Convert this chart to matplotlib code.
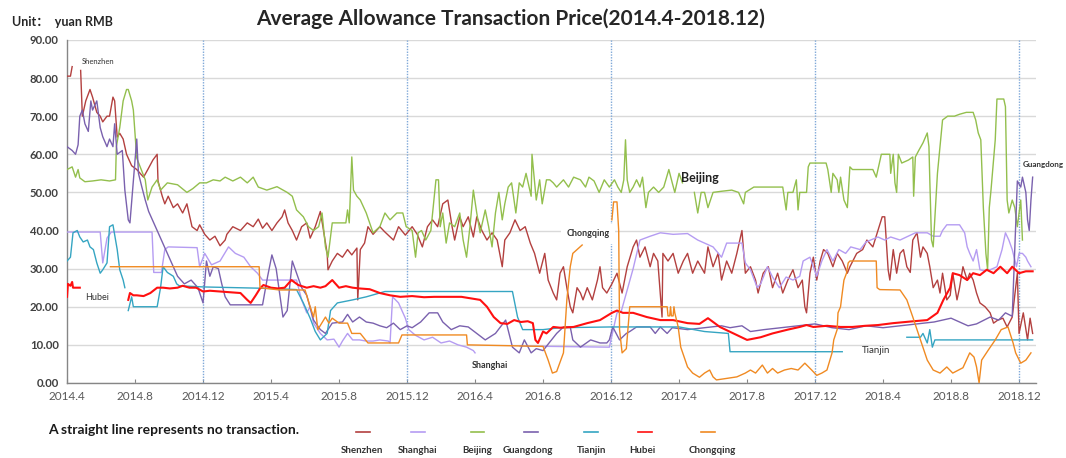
"""Average allowance transaction price of the pilot carbon markets, 2014.4-2018.12."""
import numpy as np
import matplotlib
matplotlib.use('Agg')
import matplotlib.pyplot as plt
from matplotlib.lines import Line2D

# x = months since 2014.4, y = yuan RMB; None = no data (break in the line)
shenzhen = [
    (0.0, 80.5), (0.2, 80.5), (0.3, 83), None,
    (0.8, 82), (0.9, 70), (1.1, 74), (1.35, 77), (1.5, 75), (1.75, 71), (1.95, 70), (2.1, 68.5),
    (2.35, 70), (2.5, 70), (2.7, 75), (2.8, 74), (2.95, 64.5), (3.1, 65.5), (3.3, 64), (3.5, 60),
    (3.8, 57), (4.1, 56), (4.5, 54), (4.75, 56), (5.05, 58.5), (5.3, 60), (5.35, 53), (5.6, 49),
    (5.75, 47), (5.95, 49), (6.25, 46), (6.5, 47), (6.8, 44.6), (7.05, 47), (7.35, 41), (7.65, 40),
    (7.8, 41.5), (8.1, 39), (8.4, 37.5), (8.7, 38.5), (9.0, 36), (9.3, 37.5), (9.4, 39), (9.75, 41),
    (10.2, 40), (10.6, 42), (10.95, 41), (11.25, 43), (11.5, 40.6), (11.75, 42), (12.05, 40),
    (12.35, 42), (12.65, 43.6), (12.8, 45.4), (13.0, 42), (13.25, 40), (13.5, 37.5), (13.8, 41),
    (14.1, 42), (14.3, 38), (14.6, 41), (14.9, 45), (15.05, 41), (15.3, 34), (15.35, 29.7),
    (15.6, 32), (15.9, 34), (16.2, 33), (16.5, 35), (16.75, 33.6), (17.05, 35.4), (17.1, 21.8),
    (17.25, 35), (17.5, 36.7), (17.7, 41), (18.0, 39), (18.4, 41), (18.7, 39.6), (19.2, 37.5),
    (19.5, 41), (19.9, 38.8), (20.3, 41), (20.6, 39), (20.9, 35.7), (21.2, 41), (21.5, 42.8),
    (21.8, 41), (22.1, 47), (22.4, 48), (22.65, 41), (22.8, 37.5), (23.1, 43.6), (23.3, 41),
    (23.6, 43.6), (23.9, 38.3), (24.1, 43.6), (24.4, 40), (24.7, 37.5), (25.0, 39.4), (25.3, 37.5),
    (25.6, 30.5), (25.75, 37.5), (26.05, 39.4), (26.35, 42.8), (26.65, 40), (26.95, 41),
    (27.25, 36.7), (27.5, 34), (27.8, 28.8), (28.1, 34), (28.3, 27), (28.6, 23.6), (28.8, 21.8),
    (29.0, 28.8), (29.2, 30.5), (29.4, 25), (29.6, 20), (29.75, 18.4), (30.0, 25), (30.2, 23.6),
    (30.35, 21.8), (30.6, 25), (30.9, 21.8), (31.2, 27), (31.35, 30.5), (31.5, 25), (31.75, 23.6),
    (32.05, 26), (32.35, 28.8), (32.65, 23.6), (32.95, 30.5), (33.3, 35.7), (33.5, 37.5),
    (33.7, 33), (34.0, 35.7), (34.3, 30.5), (34.5, 34), (34.75, 32), (35.0, 17.3), (35.05, 34),
    (35.35, 32), (35.65, 34), (35.95, 28.8), (36.25, 32), (36.5, 34), (36.8, 28.8), (37.1, 32),
    (37.5, 28.8), (37.7, 35.7), (38.0, 30.5), (38.3, 34), (38.5, 27), (38.8, 32), (39.1, 28.8),
    (39.4, 34), (39.7, 40), (39.9, 28.8), (40.2, 30.5), (40.5, 27), (40.65, 23.6), (40.95, 28.8),
    (41.25, 30.5), (41.5, 25), (41.8, 28.8), (42.1, 23.6), (42.4, 27), (42.7, 29.7), (43.0, 25),
    (43.25, 27), (43.4, 20), (43.5, 18.4), (43.7, 28.8), (43.9, 33), (44.1, 27), (44.3, 32),
    (44.5, 35), (44.75, 34), (45.05, 30.5), (45.3, 34), (45.6, 32), (45.9, 28.8), (46.05, 30.5),
    (46.45, 34), (46.8, 35), (47.05, 37.5), (47.4, 35.7), (47.7, 40), (47.95, 43.6), (48.1, 43.6),
    (48.3, 29.7), (48.4, 27), (48.6, 35), (48.8, 28.8), (49.0, 34), (49.2, 35), (49.4, 30.5),
    (49.6, 29), (49.75, 37.5), (50.0, 39.4), (50.2, 33), (50.35, 35.7), (50.6, 34), (50.75, 30.5),
    (50.95, 25), (51.2, 27), (51.35, 23.6), (51.5, 28.8), (51.75, 21.8), (51.95, 23), (52.1, 28.8),
    (52.35, 21.8), (52.5, 25), (52.7, 30.5), (52.95, 27), (53.1, 28.8), (53.3, 27), (53.5, 23.6),
    (53.7, 21), (54.0, 20), (54.3, 18.4), (54.5, 15.7), (54.75, 16.5), (55.05, 17), (55.3, 14.7),
    (55.6, 17.3), (55.9, 28.8), (56.0, 13), (56.25, 18.4), (56.5, 11.3), (56.65, 17), (56.8, 13),
]

shanghai = [
    (0.0, 39.6), (1.0, 39.6), (1.95, 39.6), (2.1, 31.5), (2.35, 38), (2.6, 39.6), (5.0, 39.6),
    (5.1, 29), (5.55, 29), (5.75, 35), (5.95, 35.7), (7.65, 35.5), (7.8, 30.5), (8.1, 34),
    (8.5, 31), (9.0, 32), (9.5, 35.7), (9.9, 34), (10.4, 33), (10.8, 30.5), (11.2, 28.8),
    (11.5, 27), (13.5, 27), (13.8, 21.8), (14.1, 18.4), (14.3, 20), (14.5, 15.7), (14.9, 13),
    (15.3, 11.3), (15.7, 11.5), (16.0, 9.4), (16.2, 11), (16.5, 13), (16.8, 11.3), (17.2, 11.3),
    (17.6, 11), (18.0, 11), (18.4, 11.3), (18.9, 11), (19.0, 10.5), (19.15, 22.6), (19.5, 21),
    (19.9, 17), (20.1, 14), (20.5, 12.5), (21.0, 11.3), (21.5, 12), (22.0, 10.5), (22.5, 11),
    (23.0, 10), (23.5, 9.4), (23.9, 8.5), (24.0, 7.9), None,
    (26.65, 9.7), (31.9, 9.4), (32.35, 18.4), (32.6, 18.8), (33.3, 30), (33.7, 37.5), (34.3, 38.5),
    (34.9, 39.4), (35.65, 39), (36.5, 39.2), (37.1, 37.5), (37.5, 36.7), (38.0, 35.7), (38.5, 33),
    (38.8, 36.7), (39.7, 36.7), (39.9, 31.5), (40.2, 29.7), (40.6, 25), (40.8, 26), (41.2, 30.5),
    (41.5, 27.8), (41.9, 25), (42.3, 27.8), (42.7, 27), (43.1, 28), (43.3, 32), (43.7, 33),
    (44.1, 28), (44.4, 32), (44.7, 35), (45.05, 32), (45.4, 35), (45.8, 34), (46.1, 35.7),
    (46.65, 35), (47.0, 37), (47.7, 38.3), (48.1, 37.5), (48.45, 38.3), (49.0, 37.5), (49.9, 39.4),
    (50.6, 39.4), (50.95, 38.5), (51.35, 38.5), (51.5, 40), (51.75, 41.5), (52.5, 41.5),
    (52.8, 39.4), (52.95, 35.7), (53.1, 34), (53.3, 32), (53.5, 35), (53.7, 29.7), (53.9, 29.5),
    (54.3, 29.7), (54.7, 30.5), (55.0, 35), (55.2, 39.4), (55.4, 37.5), (55.6, 35), (55.85, 30.5),
    (56.0, 34), (56.2, 34), (56.4, 33), (56.5, 32), (56.7, 30.5),
]

beijing = [
    (0.0, 56), (0.3, 56.7), (0.5, 54), (0.65, 56), (0.75, 53.8), (1.05, 52.8), (1.5, 53), (2.0, 53.3),
    (2.5, 53), (2.85, 53.3), (2.9, 62), (3.1, 67), (3.3, 74), (3.5, 77), (3.6, 77), (3.8, 74),
    (3.9, 71.6), (4.1, 59), (4.3, 56.7), (4.6, 53.3), (4.75, 48), (5.0, 51.4), (5.3, 53.3),
    (5.5, 50.6), (5.9, 52.5), (6.5, 52), (7.05, 50), (7.4, 51), (7.8, 52.5), (8.2, 52.5),
    (8.6, 53.3), (9.0, 53), (9.3, 54), (9.75, 53), (10.2, 54), (10.6, 52.5), (10.95, 54),
    (11.25, 51.4), (11.75, 50.6), (12.35, 51.5), (12.95, 50), (13.25, 49), (13.5, 45.4),
    (13.9, 43.6), (14.2, 41), (14.5, 40), (14.8, 41), (15.0, 44.6), (15.2, 35.7), (15.35, 33),
    (15.6, 42), (16.0, 42), (16.4, 42), (16.5, 45.4), (16.6, 42), (16.75, 59.3), (16.85, 50.6),
    (17.05, 49), (17.25, 48), (17.6, 44.6), (18.0, 39.4), (18.4, 41), (18.7, 44.6), (19.0, 42.8),
    (19.4, 44.6), (19.75, 44.6), (19.95, 41), (20.3, 40), (20.5, 33), (20.65, 39.4), (20.85, 40),
    (21.1, 37.5), (21.4, 40), (21.7, 53.3), (21.85, 53.3), (21.95, 41), (22.1, 44.6), (22.3, 36.7),
    (22.5, 42), (22.8, 41), (23.1, 44.6), (23.3, 37.5), (23.5, 33), (23.7, 41), (23.9, 50.6),
    (24.1, 44.6), (24.3, 39.4), (24.6, 45.4), (24.8, 41), (25.0, 35.7), (25.2, 44.6), (25.4, 50),
    (25.6, 42.8), (25.75, 47), (25.95, 51.4), (26.15, 52.5), (26.4, 44.6), (26.6, 52.5),
    (26.8, 51.4), (27.0, 55), (27.3, 49), (27.35, 60), (27.6, 48), (27.8, 53.3), (27.95, 47),
    (28.2, 53.3), (28.4, 53.3), (28.6, 52.5), (28.8, 51.4), (29.2, 53.3), (29.5, 51.4), (29.8, 54),
    (30.2, 53.3), (30.5, 51.4), (30.7, 54), (31.0, 53), (31.3, 50), (31.6, 53.3), (31.9, 51.4),
    (32.2, 53.3), (32.4, 51.4), (32.6, 50), (32.75, 53.3), (32.85, 63.8), (32.95, 53.3), (33.1, 50),
    (33.3, 51.4), (33.5, 53.3), (33.7, 51.4), (33.85, 54), (34.05, 46), (34.2, 50), (34.5, 51.4),
    (34.8, 50), (35.1, 51.4), (35.4, 56), (35.6, 52.5), (35.75, 50), (36.0, 55), (36.2, 52.5), None,
    (36.9, 50), (37.1, 44.6), (37.3, 50), (37.5, 50), (37.7, 46), (38.0, 50), (38.5, 50.3),
    (39.1, 50.6), (39.5, 50), (39.8, 47), (39.9, 50), (40.4, 51.4), (41.0, 51.4), (42.1, 51.4),
    (42.3, 45.4), (42.4, 50), (42.7, 50), (42.9, 53.3), (43.0, 45.4), (43.1, 50), (43.5, 50),
    (43.6, 56.7), (43.7, 57.7), (44.3, 57.7), (44.65, 57.7), (44.75, 56), (44.95, 50), (45.05, 55),
    (45.3, 53.3), (45.4, 50), (45.5, 54), (45.7, 48), (45.9, 46), (46.05, 56.7), (46.2, 56),
    (46.8, 56), (47.4, 56), (47.6, 54), (47.9, 60), (48.4, 60), (48.45, 55), (48.6, 60),
    (48.7, 52.5), (48.8, 50), (48.9, 60), (49.1, 57.7), (49.5, 58.5), (49.75, 59.3), (49.8, 49),
    (49.9, 59.3), (50.1, 61), (50.35, 63), (50.6, 65.6), (50.7, 62), (50.75, 53.3), (50.85, 37.5),
    (50.95, 35.7), (51.2, 55), (51.5, 69), (51.8, 70), (52.2, 70), (52.5, 70.5), (52.9, 71),
    (53.3, 71), (53.45, 69), (53.6, 65.6), (53.75, 63.8), (53.9, 46), (54.05, 34), (54.15, 29.7),
    (54.25, 46), (54.35, 50.6), (54.6, 63.8), (54.7, 74.5), (55.1, 74.5), (55.2, 72.5), (55.3, 48),
    (55.4, 44.6), (55.6, 48), (55.75, 46), (55.9, 41), (56.1, 48), (56.2, 37.5),
]

guangdong = [
    (0.0, 62), (0.3, 61), (0.5, 60), (0.65, 62.5), (0.75, 70), (0.9, 71.6), (1.05, 68), (1.25, 66),
    (1.4, 74), (1.5, 71.6), (1.75, 74), (1.95, 67), (2.1, 64.6), (2.35, 62), (2.5, 64), (2.7, 62),
    (2.8, 68), (2.95, 60), (3.25, 61), (3.4, 50.6), (3.6, 42.8), (3.7, 42), (3.9, 53), (4.1, 64),
    (4.2, 55), (4.4, 51.4), (4.6, 48), (4.8, 45), (6.5, 28), (6.9, 26), (7.3, 27), (7.7, 25),
    (8.0, 21), (8.2, 32), (8.4, 28), (8.6, 30.5), (8.9, 30), (9.1, 26), (9.3, 22.6), (9.6, 20.5),
    (11.5, 20.5), (11.8, 28), (12.05, 33.6), (12.3, 30), (12.7, 17.3), (12.95, 19), (13.25, 32),
    (13.5, 28.8), (13.8, 25), (14.1, 23), (14.5, 16.5), (14.9, 14), (15.2, 13), (15.6, 15.7),
    (16.2, 16), (16.5, 18), (16.8, 16), (17.2, 17.3), (17.6, 16), (18.0, 15.7), (18.4, 15),
    (18.8, 14.5), (19.2, 15.7), (19.6, 14), (20.0, 15), (20.3, 14.5), (20.8, 16), (21.3, 18.4),
    (21.8, 18.4), (22.1, 16), (22.6, 14), (23.1, 15), (23.6, 14.7), (24.1, 13), (24.6, 11.3),
    (25.2, 13), (25.8, 16.5), (26.2, 9.4), (26.6, 7.9), (26.9, 11.3), (27.3, 7.9), (27.6, 9),
    (28.0, 8.5), (28.8, 13), (29.2, 14.7), (29.6, 14.7), (29.75, 11.3), (30.2, 9.4), (30.8, 11.3),
    (31.35, 10.5), (31.75, 10.5), (31.9, 11.3), (32.1, 14.7), (32.5, 11.3), (32.9, 13), (33.1, 13.5),
    (33.5, 14.7), (34.3, 14.7), (34.6, 13), (34.9, 14.7), (35.3, 13), (35.6, 14.5), (36.5, 14),
    (37.5, 14.5), (38.5, 15), (39.0, 14.5), (39.7, 15), (40.2, 13.5), (41.0, 14), (42.0, 14.5),
    (43.0, 15), (44.0, 15.5), (45.0, 14.5), (46.0, 14), (47.0, 15), (48.0, 14.5), (49.0, 15),
    (50.0, 15.5), (51.0, 16), (52.0, 17), (52.5, 16), (53.0, 15), (53.5, 15.5), (54.3, 17.3),
    (54.8, 16.5), (55.2, 18.4), (55.6, 17.5), (55.9, 53), (56.1, 51.4), (56.2, 54), (56.4, 50),
    (56.5, 42.8), (56.6, 40), (56.7, 48), (56.8, 54),
]

tianjin = [
    (0.0, 32), (0.2, 33), (0.35, 39.4), (0.6, 40), (0.75, 38.3), (0.95, 37), (1.2, 37.5),
    (1.35, 35.7), (1.55, 35), (1.75, 31.5), (1.95, 28.8), (2.1, 29.7), (2.35, 31.5), (2.5, 41),
    (2.7, 41.5), (2.95, 35), (3.1, 29.7), (3.3, 27), (3.4, 25), None,
    (3.6, 19), (3.8, 22.6), (3.9, 20), (4.5, 20), (5.3, 20), (5.5, 25), (5.65, 30.5), (5.9, 29),
    (6.25, 28), (6.45, 26), (6.6, 25.5), (8.0, 25.2), (10.0, 25), (12.0, 24.8), (13.5, 24.5),
    (13.9, 21), (14.3, 17), (14.6, 13.5), (14.9, 11.3), (15.3, 13), (15.5, 19), (15.9, 21),
    (16.8, 21.8), (17.6, 22.6), (18.7, 24), (22.0, 24), (26.2, 24), (26.5, 17.3), (26.8, 14),
    (28.0, 14), (29.0, 14.5), (32.0, 14.7), (36.0, 14.7), (37.5, 13.5), (38.9, 13), (39.0, 8.2),
    (45.6, 8.2), None,
    (49.4, 12), (50.2, 12), (50.35, 13), (50.6, 10.5), (50.75, 14), (50.9, 9.4), (51.05, 11.3),
    (56.8, 11.3),
]

hubei = [
    (0.0, 22.6), (0.05, 26), (0.2, 25.5), (0.3, 26.5), (0.35, 25), (0.75, 25), None,
    (3.6, 21.8), (3.7, 23.6), (3.9, 23), (4.1, 23), (4.5, 22.8), (4.9, 23.6), (5.3, 25),
    (5.65, 25), (6.05, 24.8), (6.5, 25), (6.8, 25.5), (7.2, 25), (7.6, 25), (8.0, 24), (8.4, 24.2),
    (9.0, 24), (9.6, 23.8), (10.2, 23.6), (10.6, 21.8), (10.8, 21), (11.1, 23), (11.35, 24.8),
    (11.55, 25.7), (12.0, 25), (12.4, 24.8), (12.8, 25), (13.2, 27), (13.6, 25.7), (14.1, 25),
    (14.5, 25.4), (14.9, 25), (15.2, 25.4), (15.6, 27), (16.0, 25), (16.4, 25.4), (16.8, 25),
    (17.2, 24.8), (17.8, 24.6), (18.4, 23.6), (19.0, 23), (19.6, 22.6), (20.3, 22.8), (21.0, 22.5),
    (21.6, 22.6), (22.4, 22.6), (23.2, 22.6), (24.3, 21.8), (24.7, 20), (25.1, 17.3), (25.5, 15.7),
    (25.9, 15.5), (26.3, 16.5), (26.7, 16), (27.1, 16.2), (27.4, 15.7), (27.55, 11.3), (27.7, 10.5),
    (28.0, 13.5), (28.2, 13), (28.6, 14.7), (29.0, 14.5), (29.8, 14.7), (30.6, 15.7), (31.35, 16.5),
    (32.05, 18.4), (32.35, 19), (32.7, 18.4), (33.3, 18.4), (34.1, 17.3), (34.9, 16.5),
    (35.65, 16.5), (36.5, 15.7), (37.2, 15.5), (37.7, 17), (38.4, 14.7), (39.2, 13), (40.0, 11.3),
    (40.8, 12), (41.5, 13), (42.4, 14), (43.1, 14.7), (43.5, 15.2), (43.9, 14.7), (44.7, 15),
    (45.5, 14.7), (46.2, 14.7), (46.95, 15), (47.7, 15.2), (48.6, 15.7), (49.8, 16.2), (50.6, 16.5),
    (51.2, 18.4), (51.55, 21.8), (51.95, 25), (52.1, 28.8), (52.5, 28.3), (52.95, 27), (53.3, 28.8),
    (53.7, 28.3), (54.1, 29.7), (54.5, 28.8), (54.9, 30.5), (55.3, 28.8), (55.6, 30.5), (56.0, 28.8),
    (56.4, 29.3), (56.8, 29.3),
]

chongqing = [
    (2.55, 30.5), (11.3, 30.5), (11.35, 25), (12.5, 24.4), (14.0, 24.4), (14.3, 20), (14.5, 17.3),
    (14.6, 20), (14.75, 14), (15.2, 17.3), (15.4, 15.7), (15.6, 17), (16.0, 15.7), (16.5, 15.7),
    (16.75, 13), (17.25, 13), (17.7, 10.5), (19.5, 10.5), (19.7, 12.6), (23.5, 12.6), (23.55, 10),
    (28.0, 9.6), (28.3, 6), (28.55, 2.6), (28.8, 3), (29.2, 7.9), (29.4, 21.8), (29.6, 30.5),
    (29.75, 34), (30.0, 35), (30.3, 36.2), None,
    (32.05, 42.8), (32.15, 47.5), (32.35, 47.5), (32.45, 40), (32.5, 14), (32.65, 7.9), (32.9, 9),
    (33.1, 20), (35.3, 20), (35.35, 17.6), (35.45, 17.6), (35.5, 20), (35.55, 17.6), (35.65, 17.6),
    (35.7, 20), (35.75, 18.4), (35.95, 14.7), (36.1, 9.4), (36.5, 4.2), (36.8, 2.6), (37.2, 1.5),
    (37.5, 2.6), (37.8, 3.4), (38.0, 1.6), (38.2, 0.8), (38.8, 1.2), (39.4, 1.6), (39.9, 2.6),
    (40.2, 3.4), (40.5, 2.6), (40.9, 4.7), (41.2, 2.6), (41.5, 3.8), (41.8, 2.6), (42.2, 3.4),
    (42.6, 3.8), (43.0, 3.4), (43.4, 5.2), (43.8, 3.4), (44.1, 2), (44.4, 2.6), (44.7, 3.4),
    (45.0, 7.9), (45.1, 11.3), (45.3, 14), (45.35, 18.4), (45.5, 20), (45.6, 23.6), (45.7, 27),
    (45.85, 28.8), (45.95, 31.5), (46.05, 32), (47.6, 32), (47.65, 25), (47.8, 24.5), (49.0, 24.4),
    (49.4, 21.8), (49.75, 17.3), (50.2, 11.3), (50.6, 6), (50.95, 3.4), (51.35, 2.6), (51.75, 4.2),
    (52.1, 2.6), (52.7, 4), (53.1, 7.9), (53.35, 6.8), (53.5, 4.2), (53.65, 0), (53.8, 6),
    (54.2, 8.7), (54.6, 11.3), (54.95, 14), (55.35, 14.7), (55.65, 10.5), (55.8, 7.9), (56.1, 5.2),
    (56.4, 6), (56.7, 7.9),
]

names = ['Shenzhen', 'Shanghai', 'Beijing', 'Guangdong', 'Tianjin', 'Hubei', 'Chongqing']
series = [shenzhen, shanghai, beijing, guangdong, tianjin, hubei, chongqing]
colors = ['#B3403F', '#B59CF2', '#93BF4D', '#7A61AE', '#35A5C2', '#FF1010', '#F08A22']
widths = [1.0, 1.0, 1.0, 1.0, 1.0, 1.5, 1.0]

tick_labels = ['2014.4', '2014.8', '2014.12', '2015.4', '2015.8', '2015.12', '2016.4', '2016.8',
               '2016.12', '2017.4', '2017.8', '2017.12', '2018.4', '2018.8', '2018.12']
tick_months = [4 * i for i in range(len(tick_labels))]

plt.rcParams['font.family'] = ['Lato', 'Noto Sans CJK SC', 'DejaVu Sans']


def split(pts):
    xs = [np.nan if p is None else p[0] for p in pts]
    ys = [np.nan if p is None else p[1] for p in pts]
    return xs, ys


fig = plt.figure(figsize=(10.66, 4.58), dpi=100)
fig.patch.set_facecolor('white')
ax = fig.add_axes([0.0629, 0.1638, 0.909, 0.749])

for pts, c, lw in zip(series, colors, widths):
    xs, ys = split(pts)
    ax.plot(xs, ys, color=c, lw=lw, solid_joinstyle='round', zorder=3)

# year boundaries (December)
for m, lab in zip(tick_months, tick_labels):
    if lab.endswith('.12'):
        ax.axvline(m, color='#7FA8D8', lw=1.0, ls=(0, (1, 1)), zorder=2)

ax.set_xlim(0, 57)
ax.set_ylim(0, 90)
ax.set_yticks(np.arange(0, 91, 10))
ax.set_yticklabels(['%.2f' % v for v in np.arange(0, 91, 10)], fontsize=8.2,
                   fontweight='bold', color='#404040')
ax.set_xticks(tick_months)
ax.set_xticklabels(tick_labels, fontsize=8.5, color='#595959')
ax.tick_params(axis='x', direction='in', length=3, color='#868686', pad=6)
ax.tick_params(axis='y', length=0, pad=6)
ax.yaxis.grid(True, color='#D9D9D9', lw=1.0, zorder=0)
ax.set_axisbelow(True)
for s in ['top', 'right']:
    ax.spines[s].set_visible(False)
for s in ['left', 'bottom']:
    ax.spines[s].set_color('#868686')
    ax.spines[s].set_linewidth(1.0)

# in-chart labels
ax.text(1.8, 84.3, 'Shenzhen', fontsize=5.5, ha='center', va='center', color='#333333')
ax.text(1.75, 22.3, 'Hubei', fontsize=6.5, ha='center', va='center', color='#333333')
ax.text(24.9, 4.5, 'Shanghai', fontsize=6.5, ha='center', va='center', color='#333333',
        fontweight='bold')
ax.text(30.65, 39.1, 'Chongqing', fontsize=6.5, ha='center', va='center', color='#333333',
        fontweight='bold', zorder=5,
        bbox=dict(boxstyle='square,pad=0.6', fc='white', ec='none'))
ax.text(37.2, 53.8, 'Beijing', fontsize=9, ha='center', va='center', color='#222222',
        fontweight='bold', zorder=5)
ax.text(47.6, 8.4, 'Tianjin', fontsize=7, ha='center', va='center', color='#333333')
ax.text(57.4, 57.2, 'Guangdong', fontsize=5.8, ha='center', va='center', color='#333333',
        fontweight='bold', clip_on=False)

fig.text(0.479, 0.96, 'Average Allowance Transaction Price(2014.4-2018.12)', fontsize=15,
         fontweight='bold', ha='center', va='center', color='#262626')
fig.text(0.011, 0.952, 'Unit：  yuan RMB', fontsize=9, fontweight='bold', ha='left',
         va='center', color='#262626')
fig.text(0.045, 0.061, 'A straight line represents no transaction.', fontsize=10,
         fontweight='bold', ha='left', va='center', color='#1a1a1a')

# legend: short line sample above each name
leg_x = [0.3405, 0.3925, 0.4480, 0.4980, 0.5545, 0.6050, 0.6640]
for x, c in zip(leg_x, colors):
    fig.add_artist(Line2D([x - 0.0065, x + 0.0065], [0.057, 0.057], color=c, lw=1.2))
for x, name in zip([0.340, 0.392, 0.448, 0.495, 0.555, 0.603, 0.668], names):
    fig.text(x, 0.016, name, fontsize=7, fontweight='bold', ha='center', va='center',
             color='#333333')

fig.savefig('out.png', dpi=100, facecolor='white')
